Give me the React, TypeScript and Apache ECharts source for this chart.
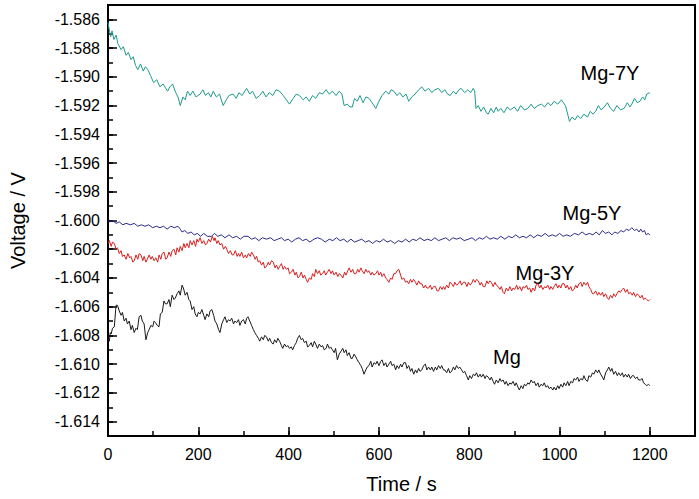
import React, { useEffect, useRef } from "react";
import * as echarts from "echarts";

const xMajorTicks = [0, 200, 400, 600, 800, 1000, 1200];
const yMajorTicks = [-1.614, -1.612, -1.61, -1.608, -1.606, -1.604, -1.602, -1.6, -1.598, -1.596, -1.594, -1.592, -1.59, -1.588, -1.586];

const seriesNames = ["Mg-7Y", "Mg-5Y", "Mg-3Y", "Mg"];

const mg7y: [number, number][] = [[0,-1.5862],[2,-1.5866],[6,-1.5872],[9,-1.5868],[13,-1.5874],[18,-1.5871],[22,-1.5877],[29,-1.5881],[34,-1.5879],[40,-1.5885],[45,-1.5883],[51,-1.5888],[56,-1.5886],[61,-1.5892],[66,-1.5895],[72,-1.5891],[78,-1.5896],[83,-1.5893],[88,-1.5895],[94,-1.5899],[101,-1.5904],[108,-1.5902],[115,-1.5907],[122,-1.5905],[132,-1.591],[137,-1.5907],[143,-1.5905],[150,-1.5911],[155,-1.5914],[160,-1.592],[166,-1.5914],[171,-1.5916],[176,-1.591],[182,-1.5913],[188,-1.591],[195,-1.5914],[204,-1.5912],[210,-1.5909],[216,-1.5913],[222,-1.5911],[228,-1.5914],[233,-1.591],[240,-1.5914],[247,-1.5912],[255,-1.592],[262,-1.5916],[268,-1.5913],[277,-1.5912],[284,-1.5915],[290,-1.5911],[297,-1.5913],[307,-1.5908],[314,-1.5912],[320,-1.591],[328,-1.5915],[336,-1.5913],[343,-1.591],[350,-1.5914],[357,-1.5911],[365,-1.5913],[372,-1.5909],[380,-1.591],[388,-1.5913],[395,-1.5916],[402,-1.5919],[410,-1.5915],[417,-1.5912],[424,-1.5913],[432,-1.5916],[439,-1.5914],[446,-1.5917],[453,-1.5913],[460,-1.5915],[468,-1.5911],[475,-1.5912],[483,-1.5909],[490,-1.5912],[497,-1.591],[505,-1.5913],[512,-1.591],[518,-1.5912],[523,-1.592],[530,-1.5919],[536,-1.5921],[541,-1.5921],[546,-1.5915],[552,-1.5917],[558,-1.5913],[565,-1.5918],[571,-1.5914],[578,-1.5915],[585,-1.5918],[593,-1.5922],[600,-1.5917],[607,-1.5913],[615,-1.591],[622,-1.5912],[627,-1.5909],[633,-1.591],[640,-1.5913],[646,-1.5911],[653,-1.5914],[660,-1.5912],[666,-1.5917],[673,-1.5914],[680,-1.5912],[688,-1.5909],[695,-1.5907],[702,-1.591],[710,-1.5908],[717,-1.5911],[724,-1.5909],[732,-1.5908],[739,-1.5911],[746,-1.5909],[752,-1.5912],[758,-1.5913],[765,-1.591],[771,-1.5912],[777,-1.5909],[782,-1.5908],[790,-1.5911],[797,-1.5909],[803,-1.5911],[809,-1.5908],[812,-1.591],[815,-1.5922],[820,-1.592],[826,-1.5924],[832,-1.5921],[838,-1.5925],[842,-1.5926],[848,-1.5922],[854,-1.5925],[860,-1.5921],[864,-1.5924],[870,-1.5922],[877,-1.5925],[884,-1.5921],[891,-1.5923],[900,-1.5921],[907,-1.5924],[914,-1.592],[922,-1.5923],[930,-1.5922],[937,-1.5919],[944,-1.5922],[952,-1.592],[960,-1.5919],[967,-1.5921],[974,-1.5918],[981,-1.592],[988,-1.5917],[996,-1.5919],[1004,-1.5916],[1013,-1.592],[1018,-1.5926],[1022,-1.5931],[1028,-1.5928],[1034,-1.593],[1040,-1.5927],[1047,-1.5929],[1054,-1.5926],[1062,-1.5928],[1068,-1.5924],[1074,-1.5926],[1080,-1.5924],[1086,-1.592],[1092,-1.5923],[1099,-1.5921],[1106,-1.5918],[1113,-1.5922],[1120,-1.5924],[1127,-1.592],[1135,-1.5923],[1143,-1.5922],[1150,-1.5918],[1156,-1.5921],[1160,-1.5919],[1166,-1.5915],[1172,-1.5918],[1178,-1.5917],[1184,-1.5914],[1189,-1.5916],[1193,-1.5912],[1200,-1.5911]];

const mg5y: [number, number][] = [[0,-1.6],[4,-1.6001],[10,-1.6],[18,-1.6002],[25,-1.6001],[33,-1.6003],[40,-1.6002],[50,-1.6003],[58,-1.6002],[66,-1.6004],[74,-1.6003],[82,-1.6004],[90,-1.6003],[99,-1.6005],[107,-1.6004],[115,-1.6005],[123,-1.6004],[131,-1.6006],[139,-1.6004],[147,-1.6005],[155,-1.6004],[160,-1.6006],[164,-1.6008],[170,-1.6007],[177,-1.6009],[184,-1.6008],[191,-1.601],[198,-1.6009],[205,-1.6011],[212,-1.6009],[220,-1.6011],[229,-1.6011],[236,-1.6009],[243,-1.6011],[251,-1.601],[259,-1.6012],[268,-1.601],[276,-1.6012],[285,-1.6011],[293,-1.6013],[301,-1.6011],[310,-1.6011],[318,-1.6013],[326,-1.6012],[334,-1.6014],[342,-1.6012],[351,-1.6013],[360,-1.6012],[368,-1.6014],[376,-1.6013],[384,-1.6012],[391,-1.6014],[399,-1.6013],[407,-1.6015],[415,-1.6013],[423,-1.6012],[431,-1.6014],[439,-1.6013],[447,-1.6015],[456,-1.6013],[464,-1.6012],[473,-1.6013],[481,-1.6015],[490,-1.6013],[498,-1.6014],[506,-1.6012],[514,-1.6014],[522,-1.6013],[530,-1.6015],[538,-1.6013],[546,-1.6015],[554,-1.6014],[562,-1.6013],[570,-1.6015],[578,-1.6014],[586,-1.6016],[594,-1.6014],[602,-1.6015],[610,-1.6013],[618,-1.6015],[626,-1.6014],[635,-1.6016],[643,-1.6014],[651,-1.6015],[659,-1.6013],[667,-1.6015],[675,-1.6013],[683,-1.6014],[691,-1.6012],[700,-1.6014],[708,-1.6013],[716,-1.6014],[724,-1.6012],[732,-1.6014],[740,-1.6013],[748,-1.6012],[756,-1.6014],[764,-1.6012],[772,-1.6013],[780,-1.6012],[789,-1.6014],[798,-1.6013],[806,-1.6012],[814,-1.6014],[822,-1.6012],[830,-1.6013],[838,-1.6011],[846,-1.6013],[854,-1.6012],[862,-1.6013],[870,-1.6011],[879,-1.6013],[887,-1.6011],[895,-1.6012],[903,-1.601],[911,-1.6012],[919,-1.6011],[927,-1.6012],[935,-1.601],[943,-1.6012],[951,-1.601],[960,-1.6011],[968,-1.6009],[976,-1.6011],[984,-1.601],[992,-1.6011],[1000,-1.6009],[1008,-1.6011],[1016,-1.601],[1024,-1.6011],[1033,-1.6009],[1042,-1.601],[1050,-1.6008],[1058,-1.601],[1066,-1.6009],[1074,-1.601],[1081,-1.6008],[1088,-1.601],[1095,-1.6007],[1102,-1.6009],[1109,-1.6008],[1116,-1.601],[1122,-1.6008],[1129,-1.6009],[1136,-1.6007],[1142,-1.6008],[1148,-1.6006],[1154,-1.6007],[1160,-1.6005],[1166,-1.6007],[1171,-1.6006],[1176,-1.6008],[1180,-1.6006],[1184,-1.6008],[1188,-1.6007],[1192,-1.601],[1196,-1.6009],[1200,-1.601]];

const mg3y: [number, number][] = [[0,-1.6016],[3,-1.6014],[7,-1.6018],[10,-1.6015],[14,-1.6016],[18,-1.602],[21,-1.6019],[25,-1.6023],[29,-1.6021],[32,-1.6025],[36,-1.6024],[40,-1.6027],[44,-1.6023],[48,-1.6026],[51,-1.6025],[55,-1.6029],[58,-1.6028],[62,-1.6024],[66,-1.6027],[69,-1.6023],[73,-1.6024],[77,-1.6028],[80,-1.6025],[84,-1.6029],[87,-1.6027],[91,-1.6024],[95,-1.6027],[98,-1.6025],[102,-1.6028],[106,-1.6026],[110,-1.6029],[113,-1.6024],[117,-1.6027],[120,-1.6023],[124,-1.6022],[128,-1.6027],[131,-1.6026],[135,-1.6022],[139,-1.6025],[142,-1.6021],[146,-1.602],[150,-1.6024],[153,-1.6019],[157,-1.6022],[160,-1.6018],[164,-1.6021],[168,-1.6016],[171,-1.6019],[175,-1.6016],[179,-1.6019],[182,-1.6014],[186,-1.6017],[190,-1.6014],[194,-1.6018],[197,-1.6013],[200,-1.6015],[204,-1.6012],[208,-1.6016],[212,-1.6014],[216,-1.6017],[219,-1.6016],[223,-1.6013],[227,-1.6015],[231,-1.6011],[235,-1.6014],[237,-1.6012],[241,-1.6016],[244,-1.6014],[248,-1.6017],[252,-1.6016],[256,-1.602],[260,-1.6018],[263,-1.602],[267,-1.6023],[271,-1.6021],[275,-1.6024],[278,-1.6024],[282,-1.6021],[286,-1.6025],[289,-1.6023],[292,-1.6025],[296,-1.6022],[300,-1.6026],[304,-1.6024],[307,-1.6026],[311,-1.6023],[315,-1.6025],[318,-1.6022],[322,-1.6024],[326,-1.6027],[329,-1.6025],[333,-1.6029],[336,-1.6028],[340,-1.6031],[344,-1.6029],[347,-1.6033],[351,-1.6032],[355,-1.6029],[358,-1.6031],[362,-1.6028],[366,-1.6029],[370,-1.6033],[373,-1.6031],[377,-1.6034],[380,-1.6032],[384,-1.603],[388,-1.6034],[391,-1.6032],[395,-1.6034],[399,-1.6033],[402,-1.6037],[406,-1.6036],[410,-1.6034],[414,-1.6038],[417,-1.6036],[421,-1.604],[424,-1.6039],[428,-1.6036],[432,-1.604],[435,-1.6038],[439,-1.6041],[442,-1.6043],[446,-1.604],[450,-1.6041],[453,-1.6037],[457,-1.6039],[460,-1.6034],[464,-1.6037],[468,-1.6035],[471,-1.6038],[475,-1.6037],[479,-1.6035],[482,-1.6038],[486,-1.6036],[490,-1.6034],[494,-1.6037],[497,-1.6035],[501,-1.6038],[505,-1.6036],[509,-1.6039],[512,-1.6037],[516,-1.6038],[520,-1.604],[524,-1.6036],[527,-1.6038],[531,-1.6035],[534,-1.6033],[538,-1.6036],[542,-1.6034],[545,-1.6037],[549,-1.6037],[553,-1.6034],[556,-1.6036],[560,-1.6033],[563,-1.6035],[567,-1.6037],[571,-1.6034],[574,-1.6036],[578,-1.6035],[582,-1.6038],[585,-1.6036],[589,-1.6038],[593,-1.6037],[597,-1.6035],[600,-1.6038],[604,-1.6036],[607,-1.6039],[611,-1.6037],[615,-1.604],[618,-1.6041],[622,-1.6043],[626,-1.604],[629,-1.6041],[633,-1.6037],[637,-1.6037],[640,-1.6035],[644,-1.6034],[648,-1.6038],[651,-1.6041],[655,-1.604],[659,-1.6043],[662,-1.6042],[666,-1.6044],[670,-1.6041],[673,-1.6043],[677,-1.6041],[681,-1.6043],[684,-1.6045],[688,-1.6042],[691,-1.6044],[695,-1.6044],[699,-1.6047],[703,-1.6045],[706,-1.6047],[710,-1.6047],[714,-1.6045],[717,-1.6048],[721,-1.6046],[725,-1.6046],[729,-1.6049],[732,-1.6049],[736,-1.6046],[740,-1.6048],[743,-1.6046],[746,-1.6048],[750,-1.6045],[754,-1.6047],[757,-1.6043],[761,-1.6044],[765,-1.6046],[768,-1.6043],[772,-1.6045],[776,-1.6044],[780,-1.6042],[783,-1.6045],[787,-1.6043],[791,-1.6043],[795,-1.6046],[798,-1.6043],[802,-1.6045],[805,-1.6044],[809,-1.6041],[813,-1.6043],[816,-1.6041],[820,-1.6042],[824,-1.6045],[827,-1.6043],[831,-1.6046],[835,-1.6046],[839,-1.6042],[842,-1.6044],[846,-1.6042],[849,-1.6043],[853,-1.6046],[857,-1.6043],[860,-1.6045],[864,-1.6046],[868,-1.6048],[871,-1.6046],[875,-1.605],[878,-1.6051],[882,-1.6047],[886,-1.6049],[890,-1.6046],[894,-1.6049],[897,-1.6047],[901,-1.6048],[905,-1.6045],[908,-1.6048],[912,-1.6046],[916,-1.6049],[919,-1.6046],[923,-1.6047],[927,-1.6045],[930,-1.6048],[934,-1.6047],[937,-1.605],[941,-1.6047],[945,-1.6049],[948,-1.6045],[952,-1.6044],[956,-1.6047],[959,-1.6045],[963,-1.6048],[967,-1.6046],[970,-1.6047],[974,-1.6045],[978,-1.6048],[981,-1.6046],[985,-1.6048],[988,-1.6046],[992,-1.6044],[996,-1.6047],[999,-1.6045],[1003,-1.6047],[1006,-1.6044],[1010,-1.6044],[1014,-1.6047],[1017,-1.6045],[1021,-1.6048],[1025,-1.6046],[1028,-1.6049],[1032,-1.6048],[1036,-1.6045],[1039,-1.6047],[1043,-1.6044],[1047,-1.6043],[1050,-1.6046],[1054,-1.6043],[1058,-1.6045],[1062,-1.6043],[1065,-1.6046],[1069,-1.6048],[1073,-1.6051],[1076,-1.6051],[1080,-1.6049],[1084,-1.6052],[1087,-1.605],[1091,-1.6052],[1095,-1.605],[1098,-1.6053],[1102,-1.6051],[1106,-1.6054],[1109,-1.6055],[1113,-1.6052],[1117,-1.6054],[1120,-1.6051],[1124,-1.6053],[1127,-1.6051],[1131,-1.6049],[1135,-1.605],[1139,-1.6048],[1142,-1.6047],[1146,-1.605],[1150,-1.6048],[1153,-1.6051],[1157,-1.605],[1161,-1.6052],[1164,-1.605],[1168,-1.6053],[1172,-1.6051],[1175,-1.6052],[1179,-1.6054],[1183,-1.6052],[1186,-1.6055],[1190,-1.6054],[1193,-1.6055],[1197,-1.6056],[1200,-1.6055]];

const mg: [number, number][] = [[0,-1.6082],[3,-1.6084],[5,-1.6078],[7,-1.6079],[10,-1.6075],[14,-1.6074],[17,-1.6062],[18,-1.6059],[21,-1.6059],[25,-1.6063],[29,-1.6066],[32,-1.6064],[36,-1.607],[40,-1.6068],[43,-1.6072],[47,-1.607],[51,-1.6076],[54,-1.6073],[58,-1.6078],[62,-1.6075],[65,-1.6076],[69,-1.6067],[73,-1.6066],[76,-1.607],[80,-1.6072],[84,-1.6083],[88,-1.6078],[91,-1.6076],[95,-1.6073],[99,-1.6074],[102,-1.607],[105,-1.6071],[109,-1.6073],[113,-1.6074],[116,-1.6065],[120,-1.6064],[124,-1.6056],[127,-1.6058],[131,-1.6058],[135,-1.6055],[138,-1.606],[142,-1.6052],[146,-1.6055],[149,-1.6054],[153,-1.6051],[157,-1.6049],[160,-1.6052],[164,-1.6045],[167,-1.6047],[171,-1.6052],[175,-1.605],[179,-1.6055],[182,-1.6056],[186,-1.6062],[190,-1.606],[193,-1.6065],[197,-1.6067],[200,-1.6064],[204,-1.6065],[208,-1.6062],[212,-1.6066],[215,-1.6069],[219,-1.6065],[223,-1.6067],[226,-1.6063],[230,-1.6062],[234,-1.6066],[237,-1.607],[241,-1.6072],[245,-1.6076],[248,-1.6078],[252,-1.6072],[256,-1.6069],[259,-1.6067],[263,-1.6071],[267,-1.6069],[270,-1.607],[274,-1.6068],[278,-1.6072],[281,-1.607],[285,-1.6071],[289,-1.6069],[292,-1.6073],[296,-1.607],[300,-1.6069],[304,-1.6072],[307,-1.6068],[310,-1.6067],[314,-1.607],[318,-1.6073],[322,-1.6076],[325,-1.6078],[329,-1.608],[333,-1.6082],[336,-1.6084],[340,-1.6081],[344,-1.6083],[347,-1.608],[351,-1.6081],[355,-1.6084],[358,-1.6082],[362,-1.6085],[366,-1.6086],[369,-1.6083],[373,-1.6085],[376,-1.6082],[380,-1.6084],[384,-1.6087],[387,-1.6089],[391,-1.6086],[395,-1.6088],[398,-1.6087],[402,-1.6089],[406,-1.6088],[409,-1.609],[413,-1.6087],[417,-1.6085],[420,-1.6082],[424,-1.608],[428,-1.6083],[431,-1.6082],[435,-1.6085],[439,-1.6084],[442,-1.6088],[446,-1.6087],[450,-1.6085],[453,-1.6088],[457,-1.6084],[460,-1.6086],[464,-1.6089],[468,-1.6086],[472,-1.6088],[475,-1.6087],[479,-1.609],[483,-1.6089],[486,-1.6086],[490,-1.6089],[493,-1.6088],[497,-1.609],[501,-1.6092],[504,-1.6089],[508,-1.6097],[512,-1.6093],[516,-1.6091],[520,-1.6089],[523,-1.6092],[527,-1.609],[530,-1.6094],[534,-1.6092],[538,-1.6096],[541,-1.6096],[545,-1.6093],[549,-1.6095],[552,-1.6097],[556,-1.6099],[560,-1.6101],[563,-1.6103],[567,-1.6107],[571,-1.6104],[574,-1.6102],[578,-1.6101],[582,-1.6098],[585,-1.6102],[589,-1.6099],[593,-1.61],[596,-1.6098],[600,-1.6101],[604,-1.6098],[607,-1.6097],[611,-1.6101],[615,-1.6099],[618,-1.6102],[622,-1.61],[626,-1.6098],[629,-1.6101],[633,-1.61],[637,-1.6104],[640,-1.6101],[644,-1.6103],[648,-1.61],[651,-1.6102],[655,-1.6099],[659,-1.6099],[662,-1.6103],[666,-1.6101],[670,-1.6105],[673,-1.6103],[677,-1.6107],[681,-1.6104],[684,-1.6106],[688,-1.6103],[691,-1.6105],[695,-1.6104],[699,-1.6101],[703,-1.61],[706,-1.6104],[710,-1.6102],[714,-1.6104],[717,-1.6102],[721,-1.6105],[725,-1.6102],[728,-1.6104],[732,-1.6101],[736,-1.6103],[739,-1.6101],[743,-1.6104],[746,-1.6104],[750,-1.6106],[754,-1.6103],[757,-1.6106],[761,-1.6105],[765,-1.6102],[768,-1.6104],[772,-1.6101],[776,-1.6103],[779,-1.6102],[783,-1.6104],[787,-1.6106],[790,-1.6105],[794,-1.6108],[798,-1.6111],[801,-1.6108],[805,-1.611],[809,-1.6107],[813,-1.6108],[816,-1.6106],[820,-1.6109],[824,-1.6107],[827,-1.6109],[831,-1.6107],[835,-1.611],[838,-1.6108],[842,-1.6109],[846,-1.6111],[849,-1.6109],[853,-1.6112],[856,-1.6114],[860,-1.6111],[864,-1.6113],[868,-1.611],[871,-1.6112],[875,-1.6111],[879,-1.6114],[882,-1.6112],[886,-1.6115],[890,-1.6113],[893,-1.6114],[897,-1.6112],[901,-1.6115],[904,-1.6113],[908,-1.6116],[911,-1.6118],[915,-1.6115],[919,-1.6117],[922,-1.6114],[926,-1.6115],[930,-1.6113],[933,-1.6114],[937,-1.6111],[941,-1.6113],[944,-1.6112],[948,-1.6115],[952,-1.6113],[955,-1.6116],[959,-1.6114],[963,-1.6115],[966,-1.6113],[970,-1.6116],[974,-1.6115],[977,-1.6117],[981,-1.6116],[985,-1.6118],[988,-1.6116],[992,-1.6118],[996,-1.6115],[999,-1.6117],[1003,-1.6114],[1007,-1.6116],[1010,-1.6113],[1014,-1.6115],[1018,-1.6112],[1021,-1.6115],[1025,-1.6112],[1029,-1.6113],[1032,-1.611],[1036,-1.6111],[1040,-1.6109],[1043,-1.6112],[1047,-1.611],[1051,-1.6111],[1054,-1.6108],[1058,-1.6111],[1062,-1.6112],[1065,-1.6108],[1069,-1.6109],[1073,-1.6106],[1076,-1.6107],[1080,-1.6104],[1084,-1.6106],[1087,-1.6104],[1091,-1.6107],[1095,-1.6109],[1098,-1.6111],[1102,-1.6106],[1106,-1.6104],[1109,-1.6102],[1113,-1.6105],[1116,-1.6103],[1120,-1.6107],[1124,-1.6105],[1128,-1.6108],[1131,-1.6106],[1135,-1.6108],[1139,-1.6106],[1142,-1.6109],[1146,-1.6107],[1150,-1.6109],[1153,-1.6107],[1157,-1.611],[1161,-1.6108],[1164,-1.6108],[1168,-1.611],[1172,-1.6109],[1175,-1.6111],[1179,-1.6111],[1183,-1.611],[1186,-1.6113],[1190,-1.6114],[1193,-1.6115],[1197,-1.6114],[1200,-1.6115]];

const seriesData = [mg7y, mg5y, mg3y, mg];
const seriesColors = ["#1e9a8e", "#2a2a8c", "#d81e1e", "#1a1a1a"];
const labelPos = [[610, 73], [592, 213], [545, 273], [507, 357]];

const FONT = "'Liberation Sans', Arial, sans-serif";

export default function App() {
  const ref = useRef<HTMLDivElement>(null);
  useEffect(() => {
    document.body.style.margin = "0";
    if (!ref.current) return;
    const chart = echarts.init(ref.current, null, { renderer: "svg" });
    const axisLine = { show: true, lineStyle: { color: "#000", width: 2 } };
    chart.setOption({
      animation: false,
      backgroundColor: "#fff",
      grid: { left: 107, right: 4, top: 5, bottom: 60, show: true, borderColor: "#000", borderWidth: 2, backgroundColor: "transparent" },
      xAxis: [
        {
          type: "value", min: 0, max: 1300, interval: 100, position: "bottom",
          axisLine, splitLine: { show: false },
          axisTick: { show: true, inside: true, length: 5, lineStyle: { color: "#000", width: 1.5 } },
          axisLabel: { show: false },
        },
        {
          type: "value", min: 0, max: 1300, position: "bottom",
          axisLine: { show: false }, splitLine: { show: false },
          axisTick: { show: true, inside: true, length: 9, customValues: xMajorTicks, lineStyle: { color: "#000", width: 1.5 } },
          axisLabel: {
            show: true, customValues: xMajorTicks, fontSize: 16, color: "#000", margin: 10, fontFamily: FONT,
            formatter: (v: number) => String(Math.round(v)),
          },
          name: "Time / s", nameLocation: "middle", nameGap: 38,
          nameTextStyle: { fontSize: 20, color: "#000", fontFamily: FONT },
        },
      ],
      yAxis: [
        {
          type: "value", min: -1.615, max: -1.585, interval: 0.001, position: "left",
          axisLine, splitLine: { show: false },
          axisTick: { show: true, inside: true, length: 5, lineStyle: { color: "#000", width: 1.5 } },
          axisLabel: { show: false },
        },
        {
          type: "value", min: -1.615, max: -1.585, position: "left",
          axisLine: { show: false }, splitLine: { show: false },
          axisTick: { show: true, inside: true, length: 9, customValues: yMajorTicks, lineStyle: { color: "#000", width: 1.5 } },
          axisLabel: {
            show: true, customValues: yMajorTicks, fontSize: 16, color: "#000", margin: 8, fontFamily: FONT,
            formatter: (v: number) => v.toFixed(3),
          },
          name: "Voltage / V", nameLocation: "middle", nameGap: 80, nameRotate: 90,
          nameTextStyle: { fontSize: 20, color: "#000", fontFamily: FONT },
        },
      ],
      series: seriesData.map((d, i) => ({
        name: seriesNames[i],
        type: "line",
        xAxisIndex: 0,
        yAxisIndex: 0,
        data: d,
        showSymbol: false,
        symbol: "none",
        lineStyle: { color: seriesColors[i], width: 1 },
        itemStyle: { color: seriesColors[i] },
        silent: true,
      })),
      graphic: seriesNames.map((n, i) => ({
        type: "text",
        x: labelPos[i][0],
        y: labelPos[i][1],
        style: { text: n, fontSize: 20, fill: "#000", fontFamily: FONT, textAlign: "center", textVerticalAlign: "middle" },
      })),
    });
    return () => chart.dispose();
  }, []);
  return <div ref={ref} style={{ position: "absolute", left: 0, top: 0, width: 699, height: 499 }} />;
}
